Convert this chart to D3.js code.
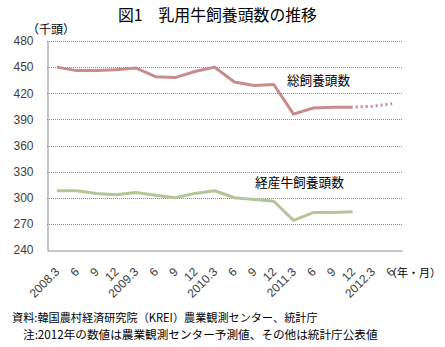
<!DOCTYPE html>
<html><head><meta charset="utf-8">
<script src="https://cdn.jsdelivr.net/npm/d3@7"></script>
<style>
html,body{margin:0;padding:0;background:#fff;}
svg{display:block;}
</style></head>
<body>
<svg id="chart" width="445" height="347"></svg>
<script>
// ---- data ----
const categories = ["2008.3","6","9","12","2009.3","6","9","12","2010.3","6","9","12","2011.3","6","9","12","2012.3","6"];
const yTicks = [240,270,300,330,360,390,420,450,480];
// 総飼養頭数 (千頭) ; last two values (2012) are forecasts
const totalHerd = [450,446,446,447,449,439,438,445,450,433,429,430,396,403,404,404,405,408];
const forecastFrom = 15; // index of last published value; dotted from here on
// 経産牛飼養頭数 (千頭)
const cowsHerd = [308,308,305,303.5,306,303,300,305,308,300,298,296,274,283,283,284];

const titleText = "図1\u3000乳用牛飼養頭数の推移";
const unitText = "（千頭）";
const xUnitText = "（年・月）";
const labelTotal = "総飼養頭数";
const labelCows = "経産牛飼養頭数";
const sourceText = "資料:韓国農村経済研究院（KREI）農業観測センター、統計庁";
const noteText = "注:2012年の数値は農業観測センター予測値、その他は統計庁公表値";

// ---- layout ----
const svg = d3.select("#chart");
const mLeft = 47, mRight = 402, mTop = 41, mBottom = 250;
const cjk = "'Noto Sans CJK JP','Noto Sans',sans-serif";
const latin = "'Liberation Sans',Arial,sans-serif";

const x = d3.scaleBand().domain(d3.range(categories.length)).range([mLeft, mRight]);
const xc = i => x(i) + x.bandwidth() / 2;
const y = d3.scaleLinear().domain([240, 480]).range([mBottom, mTop]);

// fit a text element to a target width by scaling its font size
function fit(sel, w) {
  const fs = +sel.attr("font-size");
  const len = sel.node().getComputedTextLength();
  if (len > 0) sel.attr("font-size", (fs * w / len).toFixed(2));
  return sel;
}

// grid lines
svg.append("g").selectAll("line").data(yTicks.filter(t => t > 240)).join("line")
  .attr("x1", mLeft).attr("x2", mRight)
  .attr("y1", d => Math.round(y(d)) + 0.5).attr("y2", d => Math.round(y(d)) + 0.5)
  .attr("stroke", "#8c8c8c").attr("stroke-width", 1).attr("stroke-dasharray", "1,1");

// y axis
const yAxis = d3.axisLeft(y).tickValues(yTicks).tickSize(0).tickPadding(14);
const gy = svg.append("g").attr("transform", `translate(${mLeft + 0.5},0)`).call(yAxis);
gy.select(".domain").attr("stroke", "#8c8c8c");
gy.selectAll("text").attr("font-family", latin).attr("font-size", 12).attr("fill", "#404040");

// x axis
const xAxis = d3.axisBottom(x).tickSize(0).tickFormat(i => categories[i]);
const gx = svg.append("g").attr("transform", `translate(0,${mBottom + 0.5})`).call(xAxis);
gx.select(".domain").attr("stroke", "#8c8c8c");
gx.selectAll(".tick text")
  .attr("font-family", latin).attr("font-size", 12).attr("fill", "#404040")
  .attr("text-anchor", "end")
  .attr("y", 0).attr("dy", "0.35em")
  .attr("transform", "translate(0.5,19) rotate(-45)");

// lines
const line = d3.line().x((d, i) => xc(i)).y(d => y(d));
svg.append("path")
  .attr("d", line(totalHerd.slice(0, forecastFrom + 1)))
  .attr("fill", "none").attr("stroke", "#c98b8b").attr("stroke-width", 3)
  .attr("stroke-linejoin", "round");
const lineF = d3.line().x(d => xc(d.i)).y(d => y(d.v));
svg.append("path")
  .attr("d", lineF(totalHerd.map((v, i) => ({v, i})).slice(forecastFrom)))
  .attr("fill", "none").attr("stroke", "#c98b8b").attr("stroke-width", 3)
  .attr("stroke-dasharray", "2,3").attr("stroke-dashoffset", -3);
svg.append("path")
  .attr("d", line(cowsHerd))
  .attr("fill", "none").attr("stroke", "#b4c697").attr("stroke-width", 3)
  .attr("stroke-linejoin", "round");

// texts
fit(svg.append("text").attr("x", 118).attr("y", 21)
  .attr("font-family", cjk).attr("font-size", 15.5).attr("fill", "#000").text(titleText), 199);
svg.append("text").attr("x", 27).attr("y", 34)
  .attr("font-family", cjk).attr("font-size", 12).attr("fill", "#000").text(unitText);
fit(svg.append("text").attr("x", 287).attr("y", 85)
  .attr("font-family", cjk).attr("font-size", 12.5).attr("fill", "#000").text(labelTotal), 63);
fit(svg.append("text").attr("x", 255).attr("y", 187)
  .attr("font-family", cjk).attr("font-size", 12.5).attr("fill", "#000").text(labelCows), 89);
svg.append("text").attr("x", 386).attr("y", 277)
  .attr("font-family", cjk).attr("font-size", 11).attr("fill", "#000").text(xUnitText);
fit(svg.append("text").attr("x", 12).attr("y", 322)
  .attr("font-family", cjk).attr("font-size", 11).attr("fill", "#000").text(sourceText), 306);
fit(svg.append("text").attr("x", 23).attr("y", 338.5)
  .attr("font-family", cjk).attr("font-size", 11).attr("fill", "#000").text(noteText), 355);
</script>
</body></html>
